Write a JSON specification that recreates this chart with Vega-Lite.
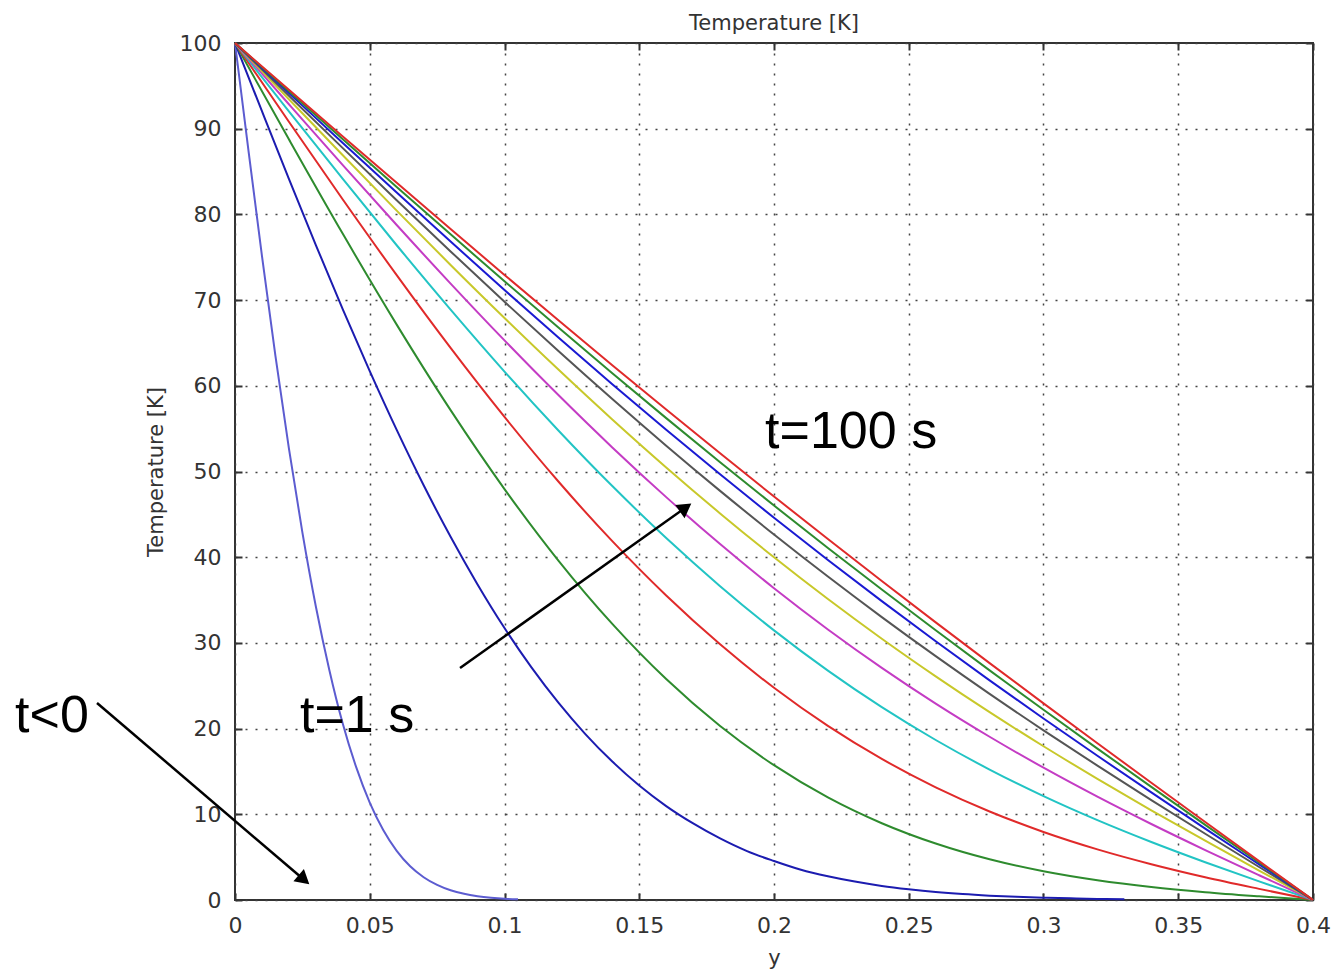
{
  "$schema": "https://vega.github.io/schema/vega-lite/v6.json",
  "width": 1078,
  "height": 857,
  "autosize": {"type": "none"},
  "padding": {"left": 235, "top": 43, "right": 23, "bottom": 72},
  "background": "white",
  "title": {"text": "Temperature [K]", "fontSize": 21, "font": "DejaVu Sans", "fontWeight": "normal", "color": "#333333", "offset": -2},
  "config": {"view": {"stroke": "#333333", "strokeWidth": 2}},
  "datasets": {
    "curves": [
      {"s":"t001","x":0,"T":100},{"s":"t001","x":0.005,"T":87.44},{"s":"t001","x":0.01,"T":75.17},{"s":"t001","x":0.015,"T":63.5},{"s":"t001","x":0.02,"T":52.69},{"s":"t001","x":0.025,"T":42.9},{"s":"t001","x":0.03,"T":34.25},{"s":"t001","x":0.035,"T":26.84},{"s":"t001","x":0.04,"T":20.56},{"s":"t001","x":0.045,"T":15.47},{"s":"t001","x":0.05,"T":11.36},{"s":"t001","x":0.055,"T":8.16},{"s":"t001","x":0.06,"T":5.73},{"s":"t001","x":0.065,"T":3.93},{"s":"t001","x":0.07,"T":2.66},{"s":"t001","x":0.075,"T":1.76},{"s":"t001","x":0.08,"T":1.13},{"s":"t001","x":0.085,"T":0.72},{"s":"t001","x":0.09,"T":0.45},{"s":"t001","x":0.095,"T":0.27},{"s":"t001","x":0.1,"T":0.15},{"s":"t001","x":0.105,"T":0.09},
      {"s":"t010","x":0,"T":100},{"s":"t010","x":0.01,"T":92.04},{"s":"t010","x":0.02,"T":84.15},{"s":"t010","x":0.03,"T":76.42},{"s":"t010","x":0.04,"T":68.91},{"s":"t010","x":0.05,"T":61.71},{"s":"t010","x":0.06,"T":54.85},{"s":"t010","x":0.07,"T":48.39},{"s":"t010","x":0.08,"T":42.38},{"s":"t010","x":0.09,"T":36.82},{"s":"t010","x":0.1,"T":31.73},{"s":"t010","x":0.11,"T":27.14},{"s":"t010","x":0.12,"T":23.02},{"s":"t010","x":0.13,"T":19.36},{"s":"t010","x":0.14,"T":16.15},{"s":"t010","x":0.15,"T":13.36},{"s":"t010","x":0.16,"T":10.96},{"s":"t010","x":0.17,"T":8.93},{"s":"t010","x":0.18,"T":7.18},{"s":"t010","x":0.19,"T":5.7},{"s":"t010","x":0.2,"T":4.55},{"s":"t010","x":0.21,"T":3.53},{"s":"t010","x":0.22,"T":2.77},{"s":"t010","x":0.23,"T":2.15},{"s":"t010","x":0.24,"T":1.64},{"s":"t010","x":0.25,"T":1.25},{"s":"t010","x":0.26,"T":0.93},{"s":"t010","x":0.27,"T":0.69},{"s":"t010","x":0.28,"T":0.51},{"s":"t010","x":0.29,"T":0.37},{"s":"t010","x":0.3,"T":0.27},{"s":"t010","x":0.31,"T":0.19},{"s":"t010","x":0.32,"T":0.13},{"s":"t010","x":0.33,"T":0.09},
      {"s":"t020","x":0,"T":100},{"s":"t020","x":0.02,"T":88.76},{"s":"t020","x":0.04,"T":77.73},{"s":"t020","x":0.06,"T":67.14},{"s":"t020","x":0.08,"T":57.16},{"s":"t020","x":0.1,"T":47.95},{"s":"t020","x":0.12,"T":39.61},{"s":"t020","x":0.14,"T":32.22},{"s":"t020","x":0.16,"T":25.78},{"s":"t020","x":0.18,"T":20.3},{"s":"t020","x":0.2,"T":15.73},{"s":"t020","x":0.22,"T":11.97},{"s":"t020","x":0.24,"T":8.96},{"s":"t020","x":0.26,"T":6.59},{"s":"t020","x":0.28,"T":4.75},{"s":"t020","x":0.3,"T":3.35},{"s":"t020","x":0.32,"T":2.3},{"s":"t020","x":0.34,"T":1.51},{"s":"t020","x":0.36,"T":0.91},{"s":"t020","x":0.38,"T":0.43},{"s":"t020","x":0.4,"T":0},
      {"s":"t030","x":0,"T":100},{"s":"t030","x":0.02,"T":90.81},{"s":"t030","x":0.04,"T":81.74},{"s":"t030","x":0.06,"T":72.91},{"s":"t030","x":0.08,"T":64.42},{"s":"t030","x":0.1,"T":56.37},{"s":"t030","x":0.12,"T":48.83},{"s":"t030","x":0.14,"T":41.87},{"s":"t030","x":0.16,"T":35.53},{"s":"t030","x":0.18,"T":29.83},{"s":"t030","x":0.2,"T":24.76},{"s":"t030","x":0.22,"T":20.31},{"s":"t030","x":0.24,"T":16.46},{"s":"t030","x":0.26,"T":13.15},{"s":"t030","x":0.28,"T":10.33},{"s":"t030","x":0.3,"T":7.94},{"s":"t030","x":0.32,"T":5.91},{"s":"t030","x":0.34,"T":4.18},{"s":"t030","x":0.36,"T":2.66},{"s":"t030","x":0.38,"T":1.3},{"s":"t030","x":0.4,"T":0},
      {"s":"t040","x":0,"T":100},{"s":"t040","x":0.02,"T":92.03},{"s":"t040","x":0.04,"T":84.14},{"s":"t040","x":0.06,"T":76.4},{"s":"t040","x":0.08,"T":68.89},{"s":"t040","x":0.1,"T":61.66},{"s":"t040","x":0.12,"T":54.79},{"s":"t040","x":0.14,"T":48.3},{"s":"t040","x":0.16,"T":42.23},{"s":"t040","x":0.18,"T":36.62},{"s":"t040","x":0.2,"T":31.46},{"s":"t040","x":0.22,"T":26.76},{"s":"t040","x":0.24,"T":22.5},{"s":"t040","x":0.26,"T":18.67},{"s":"t040","x":0.28,"T":15.22},{"s":"t040","x":0.3,"T":12.12},{"s":"t040","x":0.32,"T":9.32},{"s":"t040","x":0.34,"T":6.77},{"s":"t040","x":0.36,"T":4.41},{"s":"t040","x":0.38,"T":2.17},{"s":"t040","x":0.4,"T":0},
      {"s":"t050","x":0,"T":100},{"s":"t050","x":0.02,"T":92.85},{"s":"t050","x":0.04,"T":85.75},{"s":"t050","x":0.06,"T":78.76},{"s":"t050","x":0.08,"T":71.93},{"s":"t050","x":0.1,"T":65.3},{"s":"t050","x":0.12,"T":58.92},{"s":"t050","x":0.14,"T":52.81},{"s":"t050","x":0.16,"T":47.01},{"s":"t050","x":0.18,"T":41.53},{"s":"t050","x":0.2,"T":36.38},{"s":"t050","x":0.22,"T":31.57},{"s":"t050","x":0.24,"T":27.09},{"s":"t050","x":0.26,"T":22.92},{"s":"t050","x":0.28,"T":19.05},{"s":"t050","x":0.3,"T":15.44},{"s":"t050","x":0.32,"T":12.06},{"s":"t050","x":0.34,"T":8.87},{"s":"t050","x":0.36,"T":5.83},{"s":"t050","x":0.38,"T":2.89},{"s":"t050","x":0.4,"T":0},
      {"s":"t060","x":0,"T":100},{"s":"t060","x":0.02,"T":93.43},{"s":"t060","x":0.04,"T":86.9},{"s":"t060","x":0.06,"T":80.44},{"s":"t060","x":0.08,"T":74.1},{"s":"t060","x":0.1,"T":67.91},{"s":"t060","x":0.12,"T":61.89},{"s":"t060","x":0.14,"T":56.07},{"s":"t060","x":0.16,"T":50.47},{"s":"t060","x":0.18,"T":45.11},{"s":"t060","x":0.2,"T":39.99},{"s":"t060","x":0.22,"T":35.12},{"s":"t060","x":0.24,"T":30.49},{"s":"t060","x":0.26,"T":26.1},{"s":"t060","x":0.28,"T":21.92},{"s":"t060","x":0.3,"T":17.94},{"s":"t060","x":0.32,"T":14.14},{"s":"t060","x":0.34,"T":10.47},{"s":"t060","x":0.36,"T":6.92},{"s":"t060","x":0.38,"T":3.44},{"s":"t060","x":0.4,"T":0},
      {"s":"t070","x":0,"T":100},{"s":"t070","x":0.02,"T":93.85},{"s":"t070","x":0.04,"T":87.73},{"s":"t070","x":0.06,"T":81.66},{"s":"t070","x":0.08,"T":75.68},{"s":"t070","x":0.1,"T":69.8},{"s":"t070","x":0.12,"T":64.05},{"s":"t070","x":0.14,"T":58.45},{"s":"t070","x":0.16,"T":53.01},{"s":"t070","x":0.18,"T":47.74},{"s":"t070","x":0.2,"T":42.65},{"s":"t070","x":0.22,"T":37.74},{"s":"t070","x":0.24,"T":33.01},{"s":"t070","x":0.26,"T":28.45},{"s":"t070","x":0.28,"T":24.05},{"s":"t070","x":0.3,"T":19.8},{"s":"t070","x":0.32,"T":15.68},{"s":"t070","x":0.34,"T":11.66},{"s":"t070","x":0.36,"T":7.73},{"s":"t070","x":0.38,"T":3.85},{"s":"t070","x":0.4,"T":0},
      {"s":"t080","x":0,"T":100},{"s":"t080","x":0.02,"T":94.16},{"s":"t080","x":0.04,"T":88.33},{"s":"t080","x":0.06,"T":82.55},{"s":"t080","x":0.08,"T":76.83},{"s":"t080","x":0.1,"T":71.18},{"s":"t080","x":0.12,"T":65.63},{"s":"t080","x":0.14,"T":60.19},{"s":"t080","x":0.16,"T":54.87},{"s":"t080","x":0.18,"T":49.67},{"s":"t080","x":0.2,"T":44.6},{"s":"t080","x":0.22,"T":39.67},{"s":"t080","x":0.24,"T":34.87},{"s":"t080","x":0.26,"T":30.19},{"s":"t080","x":0.28,"T":25.63},{"s":"t080","x":0.3,"T":21.18},{"s":"t080","x":0.32,"T":16.83},{"s":"t080","x":0.34,"T":12.55},{"s":"t080","x":0.36,"T":8.33},{"s":"t080","x":0.38,"T":4.16},{"s":"t080","x":0.4,"T":0},
      {"s":"t090","x":0,"T":100},{"s":"t090","x":0.02,"T":94.38},{"s":"t090","x":0.04,"T":88.77},{"s":"t090","x":0.06,"T":83.2},{"s":"t090","x":0.08,"T":77.67},{"s":"t090","x":0.1,"T":72.2},{"s":"t090","x":0.12,"T":66.79},{"s":"t090","x":0.14,"T":61.47},{"s":"t090","x":0.16,"T":56.23},{"s":"t090","x":0.18,"T":51.08},{"s":"t090","x":0.2,"T":46.03},{"s":"t090","x":0.22,"T":41.08},{"s":"t090","x":0.24,"T":36.23},{"s":"t090","x":0.26,"T":31.47},{"s":"t090","x":0.28,"T":26.79},{"s":"t090","x":0.3,"T":22.2},{"s":"t090","x":0.32,"T":17.67},{"s":"t090","x":0.34,"T":13.2},{"s":"t090","x":0.36,"T":8.77},{"s":"t090","x":0.38,"T":4.38},{"s":"t090","x":0.4,"T":0},
      {"s":"t100","x":0,"T":100},{"s":"t100","x":0.02,"T":94.54},{"s":"t100","x":0.04,"T":89.1},{"s":"t100","x":0.06,"T":83.68},{"s":"t100","x":0.08,"T":78.29},{"s":"t100","x":0.1,"T":72.94},{"s":"t100","x":0.12,"T":67.64},{"s":"t100","x":0.14,"T":62.4},{"s":"t100","x":0.16,"T":57.23},{"s":"t100","x":0.18,"T":52.12},{"s":"t100","x":0.2,"T":47.08},{"s":"t100","x":0.22,"T":42.12},{"s":"t100","x":0.24,"T":37.23},{"s":"t100","x":0.26,"T":32.4},{"s":"t100","x":0.28,"T":27.64},{"s":"t100","x":0.3,"T":22.94},{"s":"t100","x":0.32,"T":18.29},{"s":"t100","x":0.34,"T":13.68},{"s":"t100","x":0.36,"T":9.1},{"s":"t100","x":0.38,"T":4.54},{"s":"t100","x":0.4,"T":0}
    ],
    "arrows": [
      {"x":0.0835,"T":27.07,"x2":0.1672,"T2":45.79,"ang":54.6},
      {"x":-0.0512,"T":22.99,"x2":0.0256,"T2":2.36,"ang":130.5}
    ],
    "labels": [
      {"x":-0.0816,"T":19.6,"text":"t<0"},
      {"x":0.0241,"T":19.6,"text":"t=1 s"},
      {"x":0.1967,"T":52.74,"text":"t=100 s"}
    ]
  },
  "layer": [
    {
      "data": {"name": "curves"},
      "mark": {"type": "point", "opacity": 0},
      "encoding": {
        "x": {"field": "x", "type": "quantitative", "scale": {"domain": [0, 0.4], "nice": false, "zero": false},
              "axis": {"orient": "top", "values": [0,0.05,0.1,0.15,0.2,0.25,0.3,0.35,0.4], "labels": false, "title": null, "grid": false, "domain": false, "tickSize": -7, "tickWidth": 2, "tickColor": "#333333"}},
        "y": {"field": "T", "type": "quantitative", "scale": {"domain": [0, 100], "nice": false, "zero": false},
              "axis": {"orient": "right", "values": [0,10,20,30,40,50,60,70,80,90,100], "labels": false, "title": null, "grid": false, "domain": false, "tickSize": -7, "tickWidth": 2, "tickColor": "#333333"}}
      }
    },
    {
      "data": {"name": "curves"},
      "mark": {"type": "line", "strokeWidth": 2, "interpolate": "monotone"},
      "encoding": {
        "x": {"field": "x", "type": "quantitative", "scale": {"domain": [0, 0.4], "nice": false, "zero": false},
              "axis": {"orient": "bottom", "values": [0,0.05,0.1,0.15,0.2,0.25,0.3,0.35,0.4], "format": "~g", "title": "y",
                       "grid": true, "gridDash": [2, 8], "gridColor": "#444444", "gridWidth": 1.5, "domain": false,
                       "tickSize": -7, "tickWidth": 2, "tickColor": "#333333", "labelFlush": false, "labelOverlap": false,
                       "labelFont": "DejaVu Sans", "labelFontSize": 22, "labelColor": "#333333", "labelPadding": 22,
                       "titleFont": "DejaVu Sans", "titleFontSize": 21, "titleFontWeight": "normal", "titleColor": "#333333", "titlePadding": 11}},
        "y": {"field": "T", "type": "quantitative", "scale": {"domain": [0, 100], "nice": false, "zero": false},
              "axis": {"orient": "left", "values": [0,10,20,30,40,50,60,70,80,90,100], "title": "Temperature [K]",
                       "grid": true, "gridDash": [2, 8], "gridColor": "#444444", "gridWidth": 1.5, "domain": false,
                       "tickSize": -7, "tickWidth": 2, "tickColor": "#333333", "labelFlush": false, "labelOverlap": false,
                       "labelFont": "DejaVu Sans", "labelFontSize": 22, "labelColor": "#333333", "labelPadding": 21,
                       "titleFont": "DejaVu Sans", "titleFontSize": 21, "titleFontWeight": "normal", "titleColor": "#333333", "titlePadding": 13}},
        "color": {"field": "s", "type": "nominal", "legend": null,
                  "scale": {"domain": ["t001","t010","t020","t030","t040","t050","t060","t070","t080","t090","t100"],
                            "range": ["#5c5cd0","#1c1cb0","#2e8b2e","#e02a2a","#22c4c4","#c43cc4","#c8c82a","#555555","#1a1ad2","#2e8b2e","#e02a2a"]}}
      }
    },
    {
      "data": {"name": "arrows"},
      "mark": {"type": "rule", "color": "black", "strokeWidth": 2.5},
      "encoding": {
        "x": {"field": "x", "type": "quantitative", "axis": null},
        "y": {"field": "T", "type": "quantitative", "axis": null},
        "x2": {"field": "x2"},
        "y2": {"field": "T2"}
      }
    },
    {
      "data": {"name": "arrows"},
      "mark": {"type": "point", "shape": "triangle-up", "filled": true, "color": "black", "opacity": 1, "size": 260},
      "encoding": {
        "x": {"field": "x2", "type": "quantitative", "axis": null},
        "y": {"field": "T2", "type": "quantitative", "axis": null},
        "angle": {"field": "ang", "type": "quantitative", "scale": null}
      }
    },
    {
      "data": {"name": "labels"},
      "mark": {"type": "text", "font": "Liberation Sans", "fontSize": 52, "color": "black", "align": "left", "baseline": "alphabetic"},
      "encoding": {
        "x": {"field": "x", "type": "quantitative", "axis": null},
        "y": {"field": "T", "type": "quantitative", "axis": null},
        "text": {"field": "text"}
      }
    }
  ],
  "resolve": {"axis": {"x": "independent", "y": "independent"}}
}
